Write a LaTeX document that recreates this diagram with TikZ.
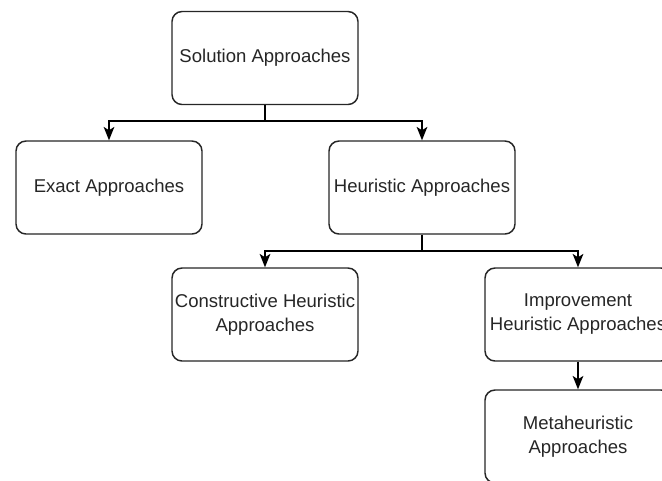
\documentclass[tikz,border=0pt]{standalone}
\usepackage{fontspec}
\setmainfont{Liberation Sans}
\usetikzlibrary{arrows.meta}
\begin{document}
\begin{tikzpicture}[x=0.75pt,y=-0.75pt,
  box/.style={draw=black!85, line width=1.1pt, rounded corners=7.5pt, fill=white,
    minimum width=186*0.75pt, minimum height=93*0.75pt, inner sep=0pt,
    align=center, text=black!85, font=\fontsize{13.9pt}{18pt}\selectfont},
  link/.style={draw=black, line width=1.1pt, -{Stealth[length=10pt,width=8pt,inset=2.5pt]}},
  plain/.style={draw=black, line width=1.1pt}]
  \useasboundingbox (0,0) rectangle (662,480);
  \clip (0,0) rectangle (662,480);
  \node[box] (sol)  at (265,58)    {Solution Approaches};
  \node[box] (ex)   at (109,187.5) {Exact Approaches};
  \node[box] (heu)  at (422,187.5) {Heuristic Approaches};
  \node[box] (con)  at (265,314.5) {Constructive Heuristic\\Approaches};
  \node[box] (imp)  at (578,314.5) {Improvement\\Heuristic Approaches};
  \node[box] (meta) at (578,436.5) {Metaheuristic\\Approaches};
  % first level branches
  \coordinate (j1) at (265,121);
  \draw[plain] (sol.south) -- (j1);
  \draw[link] (j1) -| (ex.north);
  \draw[link] (j1) -| (heu.north);
  % second level branches
  \coordinate (j2) at (422,251);
  \draw[plain] (heu.south) -- (j2);
  \draw[link] (j2) -| (con.north);
  \draw[link] (j2) -| (imp.north);
  % chain below improvement
  \draw[link] (imp.south) -- (meta.north);
\end{tikzpicture}
\end{document}
